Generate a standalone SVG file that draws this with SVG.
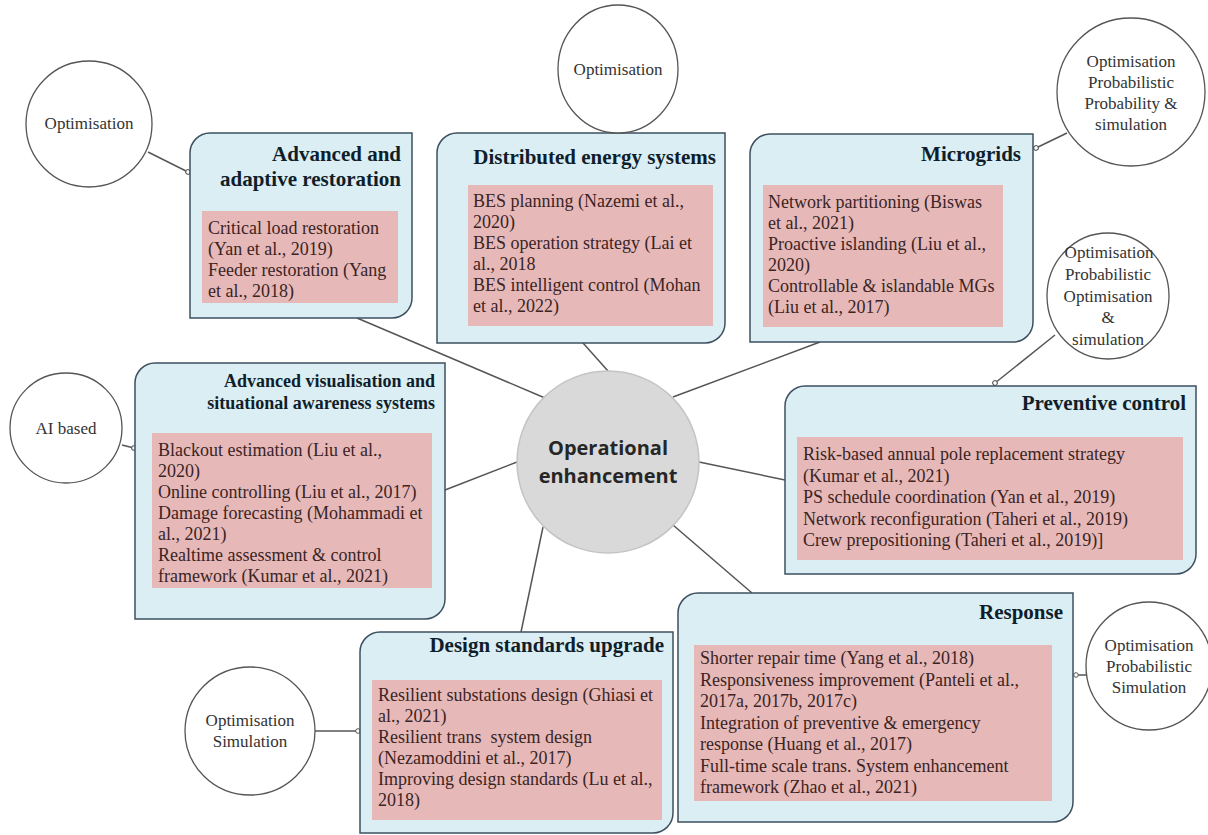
<svg xmlns="http://www.w3.org/2000/svg" width="1208" height="835" viewBox="0 0 1208 835">
<style>
.box{fill:#daeef3;stroke:#3e5060;stroke-width:1.5}
.pink{fill:#e6b9b8;stroke:none}
.ttl{font-family:"Liberation Serif",serif;font-weight:bold;font-size:21px;fill:#101e2c;text-anchor:end}
.ttl2{font-family:"Liberation Serif",serif;font-weight:bold;font-size:18px;fill:#101e2c;text-anchor:end}
.body{font-family:"Liberation Serif",serif;font-size:18px;fill:#3b2424}
.circ{fill:#ffffff;stroke:#555555;stroke-width:1.3}
.ctxt{font-family:"Liberation Serif",serif;font-size:17px;fill:#333333;text-anchor:middle}
.conn{stroke:#555555;stroke-width:1.5;fill:none}
.center{fill:#d9d9d9;stroke:#c4c4c4;stroke-width:1.5}
.ctr{font-family:"Open Sans",sans-serif;font-weight:bold;font-size:20px;fill:#262626;text-anchor:middle}
</style>
<defs>
<marker id="dot" markerUnits="userSpaceOnUse" markerWidth="8" markerHeight="8" refX="4" refY="4" orient="auto">
<circle cx="4" cy="4" r="2.3" fill="#ffffff" stroke="#555555" stroke-width="1"/>
</marker>
</defs>
<rect width="1208" height="835" fill="#ffffff"/>
<g id="connectors">
<line class="conn" x1="357" y1="318" x2="545" y2="398"/>
<line class="conn" x1="583" y1="343" x2="608" y2="371"/>
<line class="conn" x1="820" y1="342" x2="673" y2="397"/>
<line class="conn" x1="445" y1="490" x2="517" y2="462"/>
<line class="conn" x1="699" y1="462" x2="785" y2="480"/>
<line class="conn" x1="673" y1="525" x2="752" y2="593"/>
<line class="conn" x1="543" y1="527" x2="521" y2="632"/>
<line class="conn" x1="148" y1="152" x2="188" y2="172" marker-end="url(#dot)"/>
<line class="conn" x1="1067" y1="133" x2="1036" y2="148" marker-end="url(#dot)"/>
<line class="conn" x1="1055" y1="335" x2="995" y2="383" marker-end="url(#dot)"/>
<line class="conn" x1="122" y1="445" x2="134" y2="448" marker-end="url(#dot)"/>
<line class="conn" x1="315" y1="731" x2="358" y2="731" marker-end="url(#dot)"/>
<line class="conn" x1="1086" y1="675" x2="1076" y2="675" marker-end="url(#dot)"/>
</g>
<g id="center-node">
<circle class="center" cx="608" cy="462" r="91"/>
<text class="ctr" x="608" y="455">Operational</text>
<text class="ctr" x="608" y="483">enhancement</text>
</g>
<g id="adv-restoration">
<path class="box" d="M210,133 H412 V298 A20,20 0 0 1 392,318 H190 V153 A20,20 0 0 1 210,133 Z"/>
<text class="ttl" x="401" y="161">Advanced and</text>
<text class="ttl" x="401" y="186">adaptive restoration</text>
<rect class="pink" x="202" y="211" width="196" height="92"/>
<text class="body"><tspan x="208" y="234">Critical load restoration</tspan><tspan x="208" y="255">(Yan et al., 2019)</tspan><tspan x="208" y="276">Feeder restoration (Yang</tspan><tspan x="208" y="297">et al., 2018)</tspan></text>
</g>
<g id="des">
<path class="box" d="M457,133 H725 V323 A20,20 0 0 1 705,343 H437 V153 A20,20 0 0 1 457,133 Z"/>
<text class="ttl" x="716" y="164">Distributed energy systems</text>
<rect class="pink" x="468" y="185" width="245" height="141"/>
<text class="body"><tspan x="473" y="207">BES planning (Nazemi et al.,</tspan><tspan x="473" y="228">2020)</tspan><tspan x="473" y="249">BES operation strategy (Lai et</tspan><tspan x="473" y="270">al., 2018</tspan><tspan x="473" y="291">BES intelligent control (Mohan</tspan><tspan x="473" y="312">et al., 2022)</tspan></text>
</g>
<g id="microgrids">
<path class="box" d="M770,134 H1033 V322 A20,20 0 0 1 1013,342 H750 V154 A20,20 0 0 1 770,134 Z"/>
<text class="ttl" x="1021" y="161">Microgrids</text>
<rect class="pink" x="763" y="185" width="240" height="142"/>
<text class="body"><tspan x="768" y="208">Network partitioning (Biswas</tspan><tspan x="768" y="229">et al., 2021)</tspan><tspan x="768" y="250">Proactive islanding (Liu et al.,</tspan><tspan x="768" y="271">2020)</tspan><tspan x="768" y="292">Controllable &amp; islandable MGs</tspan><tspan x="768" y="313">(Liu et al., 2017)</tspan></text>
</g>
<g id="visualisation">
<path class="box" d="M155,363 H445 V599 A20,20 0 0 1 425,619 H135 V383 A20,20 0 0 1 155,363 Z"/>
<text class="ttl2" x="435" y="387">Advanced visualisation and</text>
<text class="ttl2" x="435" y="409">situational awareness systems</text>
<rect class="pink" x="152" y="433" width="280" height="155"/>
<text class="body"><tspan x="158" y="456">Blackout estimation (Liu et al.,</tspan><tspan x="158" y="477">2020)</tspan><tspan x="158" y="498">Online controlling (Liu et al., 2017)</tspan><tspan x="158" y="519">Damage forecasting (Mohammadi et</tspan><tspan x="158" y="540">al., 2021)</tspan><tspan x="158" y="561">Realtime assessment &amp; control</tspan><tspan x="158" y="582">framework (Kumar et al., 2021)</tspan></text>
</g>
<g id="preventive">
<path class="box" d="M805,386 H1196 V554 A20,20 0 0 1 1176,574 H785 V406 A20,20 0 0 1 805,386 Z"/>
<text class="ttl" x="1186" y="410">Preventive control</text>
<rect class="pink" x="797" y="437" width="386" height="123"/>
<text class="body"><tspan x="803" y="460">Risk-based annual pole replacement strategy</tspan><tspan x="803" y="481.5">(Kumar et al., 2021)</tspan><tspan x="803" y="503">PS schedule coordination (Yan et al., 2019)</tspan><tspan x="803" y="524.5">Network reconfiguration (Taheri et al., 2019)</tspan><tspan x="803" y="546">Crew prepositioning (Taheri et al., 2019)]</tspan></text>
</g>
<g id="response">
<path class="box" d="M698,593 H1073 V802 A20,20 0 0 1 1053,822 H678 V613 A20,20 0 0 1 698,593 Z"/>
<text class="ttl" x="1063" y="619">Response</text>
<rect class="pink" x="694" y="645" width="358" height="156"/>
<text class="body"><tspan x="700" y="664">Shorter repair time (Yang et al., 2018)</tspan><tspan x="700" y="685.5">Responsiveness improvement (Panteli et al.,</tspan><tspan x="700" y="707">2017a, 2017b, 2017c)</tspan><tspan x="700" y="728.5">Integration of preventive &amp; emergency</tspan><tspan x="700" y="750">response (Huang et al., 2017)</tspan><tspan x="700" y="771.5">Full-time scale trans. System enhancement</tspan><tspan x="700" y="793">framework (Zhao et al., 2021)</tspan></text>
</g>
<g id="design">
<path class="box" d="M380,632 H673 V813 A20,20 0 0 1 653,833 H360 V652 A20,20 0 0 1 380,632 Z"/>
<text class="ttl" x="664" y="652">Design standards upgrade</text>
<rect class="pink" x="372" y="680" width="290" height="140"/>
<text class="body"><tspan x="378" y="701">Resilient substations design (Ghiasi et</tspan><tspan x="378" y="722">al., 2021)</tspan><tspan x="378" y="743">Resilient trans&#160; system design</tspan><tspan x="378" y="764">(Nezamoddini et al., 2017)</tspan><tspan x="378" y="785">Improving design standards (Lu et al.,</tspan><tspan x="378" y="806">2018)</tspan></text>
</g>
<g id="c-adv">
<circle class="circ" cx="89" cy="124" r="63"/>
<text class="ctxt" x="89" y="129">Optimisation</text>
</g>
<g id="c-des">
<ellipse class="circ" cx="618" cy="69" rx="60" ry="64"/>
<text class="ctxt" x="618" y="75">Optimisation</text>
</g>
<g id="c-micro">
<circle class="circ" cx="1131" cy="92" r="74"/>
<text class="ctxt"><tspan x="1131" y="67">Optimisation</tspan><tspan x="1131" y="88">Probabilistic</tspan><tspan x="1131" y="109">Probability &amp;</tspan><tspan x="1131" y="130">simulation</tspan></text>
</g>
<g id="c-prev">
<ellipse class="circ" cx="1108" cy="296" rx="61" ry="63"/>
<text class="ctxt"><tspan x="1109" y="258">Optimisation</tspan><tspan x="1108" y="280">Probabilistic</tspan><tspan x="1108" y="302">Optimisation</tspan><tspan x="1108" y="323">&amp;</tspan><tspan x="1108" y="345">simulation</tspan></text>
</g>
<g id="c-vis">
<ellipse class="circ" cx="66" cy="428" rx="56" ry="55"/>
<text class="ctxt" x="66" y="434">AI based</text>
</g>
<g id="c-design">
<ellipse class="circ" cx="250" cy="731" rx="65" ry="64"/>
<text class="ctxt"><tspan x="250" y="726">Optimisation</tspan><tspan x="250" y="747">Simulation</tspan></text>
</g>
<g id="c-resp">
<ellipse class="circ" cx="1149" cy="666" rx="63" ry="64"/>
<text class="ctxt"><tspan x="1149" y="651">Optimisation</tspan><tspan x="1149" y="672">Probabilistic</tspan><tspan x="1149" y="693">Simulation</tspan></text>
</g>
</svg>
